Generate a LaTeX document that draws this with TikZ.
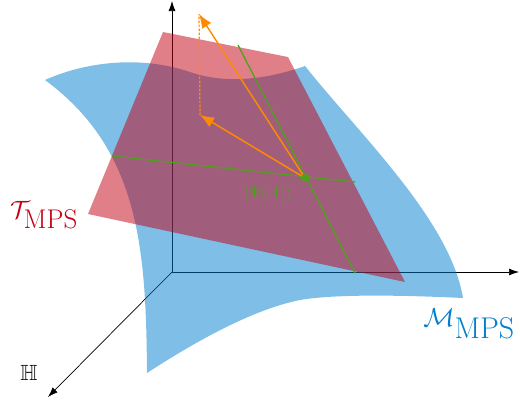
\documentclass[tikz,border=0pt]{standalone}
\usepackage{amsmath,amssymb}
\usetikzlibrary{arrows.meta}
\DeclareFontShape{OMS}{cmsy}{m}{n}{<-8> cmsy7 <8-> cmsy10}{}
\definecolor{mblue}{RGB}{0,125,205}
\definecolor{mred}{RGB}{195,0,20}
\definecolor{mgreen}{RGB}{80,160,30}
\definecolor{morange}{RGB}{255,140,0}
\tikzset{
  axis/.style={line width=0.7pt,-{Latex[length=10pt,width=7pt]}},
  vec/.style={morange,line width=1.4pt,-{Latex[length=14pt,width=11pt]}},
  gline/.style={mgreen,line width=1.3pt},
  lab/.style={inner sep=0pt}
}
\newcommand{\subtxt}[2]{\text{\fontsize{#1}{#1}\selectfont #2}}
\begin{document}
\begin{tikzpicture}[x=1pt,y=-1pt]
\useasboundingbox (0,0) rectangle (520,405);
% axes
\coordinate (O) at (172,272);
\coordinate (ZT) at (172,1);
\coordinate (XT) at (519,272);
\coordinate (HT) at (48,397);
\draw[axis] (O) -- (ZT);
\draw[axis] (O) -- (XT);
\draw[axis] (O) -- (HT);
% manifold
\fill[mblue,fill opacity=0.5] (45,80) .. controls (85,62) and (140,55) .. (190,72)
  .. controls (225,84) and (265,80) .. (305,66)
  .. controls (360,135) and (450,220) .. (463,298)
  .. controls (420,296) and (340,293) .. (300,300)
  .. controls (250,310) and (190,345) .. (147,373)
  .. controls (146,250) and (140,150) .. (45,80) -- cycle;
% tangent plane
\fill[mred,fill opacity=0.5] (163,32) -- (288,57) -- (405,282) -- (88,214) -- cycle;
% green lines
\coordinate (P) at (305,178);
\coordinate (G1a) at (112,156);
\coordinate (G1b) at (355,182);
\coordinate (G2a) at (238,45);
\coordinate (G2b) at (355,273);
\draw[gline] (G1a) -- (G1b);
\draw[gline] (G2a) -- (G2b);
% orange vectors
\coordinate (A1) at (199,14);
\coordinate (A2) at (200,115);
\draw[morange,line width=1.2pt,dash pattern=on 2.5pt off 1.5pt] (A2) -- (A1);
\draw[vec] (P) -- (A1);
\draw[vec] (P) -- (A2);
\fill[mgreen] (P) circle (4.2);
% labels
\node[lab,mgreen] (psi) at (268,194) {\fontsize{16}{18}\selectfont$|\Psi(A)\rangle$};
\node[lab,mred] (T) at (44,215) {\fontsize{25}{30}\selectfont$\mathcal{T}_{\subtxt{27}{MPS}}$};
\node[lab,mblue] (M) at (469,324) {\fontsize{26}{30}\selectfont$\mathcal{M}_{\subtxt{30}{MPS}}$};
\node[lab] (H) at (29,373) {\fontsize{22}{24}\selectfont$\mathbb{H}$};
\end{tikzpicture}
\end{document}
